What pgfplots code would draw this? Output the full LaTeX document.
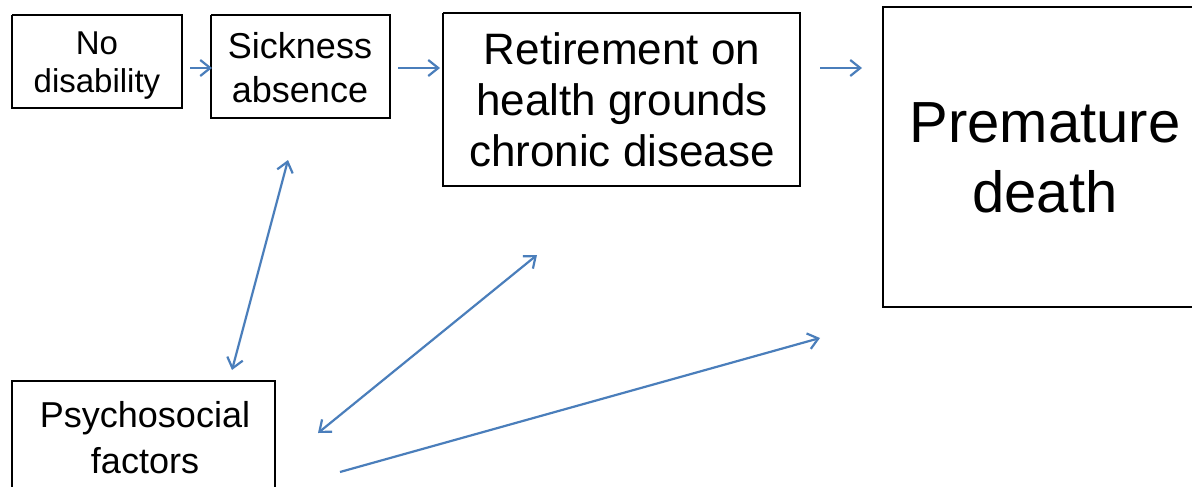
\documentclass[border=0pt]{standalone}
\usepackage{pgfplots}
\pgfplotsset{compat=1.18}
\usepackage{fontspec}
\setmainfont{Liberation Sans}
\usetikzlibrary{arrows.meta}
\definecolor{arr}{HTML}{4A7EBB}
\begin{document}
\begin{tikzpicture}
\begin{axis}[
  name=main,
  scale only axis, width=596bp, height=243.5bp,
  xmin=0, xmax=1192, ymin=0, ymax=487, y dir=reverse,
  axis lines=none, clip=true,
]
% boxes
\addplot[black, line width=0.8bp] coordinates {(12,15)(182,15)(182,108)(12,108)(12,15)};
\addplot[black, line width=0.8bp] coordinates {(211,15)(390,15)(390,118)(211,118)(211,15)};
\addplot[black, line width=0.8bp] coordinates {(443,13)(800,13)(800,186)(443,186)(443,13)};
\addplot[black, line width=0.8bp] coordinates {(1210,7)(883,7)(883,307)(1210,307)};
\addplot[black, line width=0.8bp] coordinates {(12,500)(12,381)(275,381)(275,500)};
% arrows
\pgfplotsset{myarr/.style={arr, line width=1.1bp}}
\addplot[myarr, -{Straight Barb[length=5bp,width=8bp]}] coordinates {(190,68)(212,68)};
\addplot[myarr, -{Straight Barb[length=5bp,width=8bp]}] coordinates {(398,68)(440,68)};
\addplot[myarr, -{Straight Barb[length=5bp,width=8bp]}] coordinates {(820,68)(862,68)};
\addplot[myarr, {Straight Barb[length=5bp,width=8bp]}-{Straight Barb[length=5bp,width=8bp]}] coordinates {(232,370)(288,160)};
\addplot[myarr, {Straight Barb[length=5bp,width=8bp]}-{Straight Barb[length=5bp,width=8bp]}] coordinates {(318,433)(537,255)};
\addplot[myarr, -{Straight Barb[length=5bp,width=8bp]}] coordinates {(340,472)(820,338)};
% texts
\node[align=center, font=\fontsize{16.5bp}{19bp}\selectfont] at (axis cs:97,66) {No\\disability};
\node[align=center, font=\fontsize{18bp}{22bp}\selectfont] at (axis cs:300,68) {Sickness\\absence};
\node[align=center, font=\fontsize{22bp}{25.5bp}\selectfont] at (axis cs:622,100) {Retirement on\\health grounds\\chronic disease};
\node[align=center, font=\fontsize{29bp}{35bp}\selectfont] at (axis cs:1045,158) {Premature\\death};
\node[align=center, font=\fontsize{18bp}{23bp}\selectfont] at (axis cs:145,438) {Psychosocial\\factors};
\end{axis}
\pgfresetboundingbox
\useasboundingbox (main.south west) rectangle (main.north east);
\end{tikzpicture}
\end{document}
